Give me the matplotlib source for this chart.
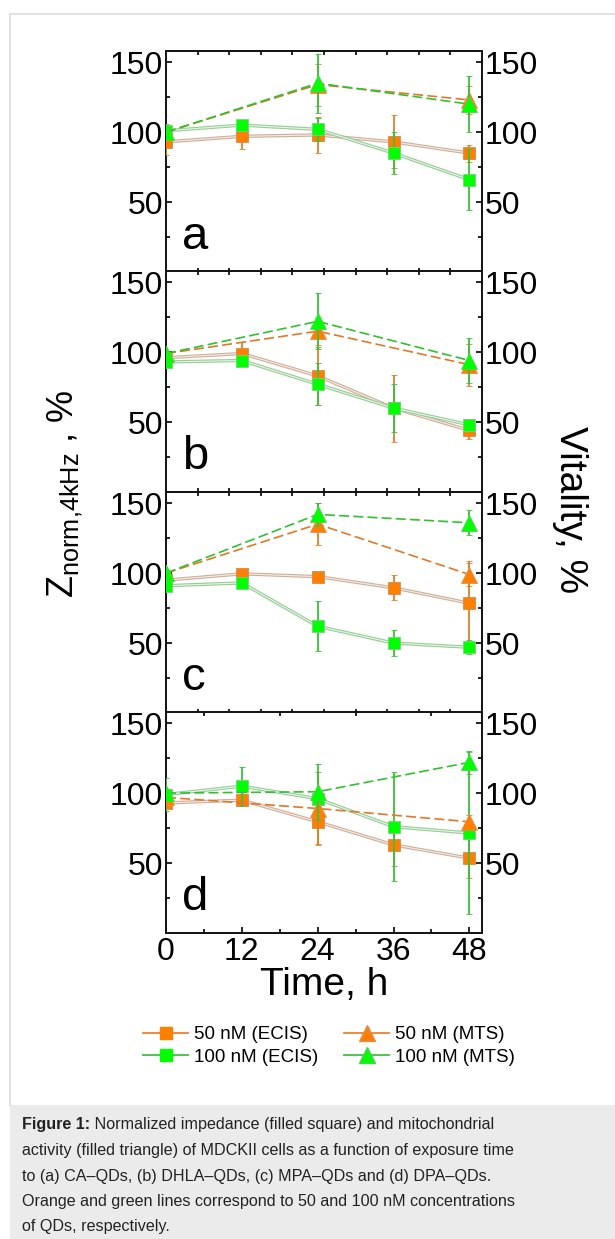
import numpy as np
import matplotlib
matplotlib.use('Agg')
import matplotlib.pyplot as plt
from matplotlib.lines import Line2D
from matplotlib.patches import Rectangle

plt.rcParams['font.family'] = ['Liberation Sans', 'DejaVu Sans']
plt.rcParams['mathtext.fontset'] = 'custom'
plt.rcParams['mathtext.rm'] = 'Liberation Sans'
plt.rcParams['mathtext.it'] = 'Liberation Sans'

# measurement times
t_ecis = [0, 12, 24, 36, 48]
t_mts = [0, 24, 48]
panel_letters = ['a', 'b', 'c', 'd']

# ECIS, 50 nM (orange squares)
ecis50 = [[93, 97, 98, 93, 85],
          [96, 99, 83, 60, 44],
          [95, 99.5, 97.5, 89.5, 78.5],
          [93, 95, 79.5, 63, 53.5]]
ecis50_err = [[9, 9, 13, 19, 6],
              [3, 8, 21, 24, 6],
              [3, 3, 3, 9, 30],
              [3, 3, 16, 15, 14]]
# ECIS, 100 nM (green squares)
ecis100 = [[101, 105, 102, 85, 66],
           [93, 94, 77, 60, 48],
           [91, 93, 62, 50, 47],
           [99, 105, 96, 76, 71.5]]
ecis100_err = [[5, 4, 8, 15, 22],
               [3, 3, 15, 17, 4],
               [3, 3, 18, 9, 5],
               [12, 14, 5, 39, 58]]
# MTS, 50 nM (orange triangles)
mts50 = [[100, 134, 123],
         [99, 115, 91],
         [100, 135, 99],
         [97, 89, 79.5]]
mts50_err = [[3, 15, 10],
             [2, 10, 15],
             [2, 15, 8],
             [2, 26, 5]]
# MTS, 100 nM (green triangles)
mts100 = [[100, 135, 120],
          [99, 122, 94],
          [100, 142, 136],
          [100, 101, 122]]
mts100_err = [[3, 21, 20],
              [2, 20, 16],
              [2, 8, 9],
              [3, 20, 8]]

orange = '#ff7f00'
green = '#00ff00'
orange_err = '#d9822b'
green_err = '#3cc03c'

W, H = 615, 1239
fig = plt.figure(figsize=(W/100, H/100), dpi=100)

# page frame and caption box
fig.add_artist(Line2D([10/W, 10/W], [1 - 14/H, 1 - 1105/H], color='#dcdcdc', lw=1.2))
fig.add_artist(Line2D([10/W, 1], [1 - 14/H, 1 - 14/H], color='#dcdcdc', lw=1.2))
fig.add_artist(Rectangle((10/W, 0), 1 - 10/W, (H - 1105)/H, color='#ebebeb', lw=0))

left, right = 166, 482
tops = [51, 271, 492, 712]
ph = 221

for i in range(4):
    ax = fig.add_axes([left/W, 1 - (tops[i] + ph)/H, (right - left)/W, ph/H])
    # ECIS lines (pale double stroke look)
    for vals, c1, c2 in [(ecis50[i], '#cfae98', '#f5ece6'), (ecis100[i], '#96cc96', '#e8f6e8')]:
        ax.plot(t_ecis, vals, color=c1, lw=2.4, zorder=2)
        ax.plot(t_ecis, vals, color=c2, lw=0.8, zorder=2)
    ax.errorbar(t_ecis, ecis50[i], yerr=ecis50_err[i], fmt='s', ms=9, mfc=orange, mec='#d08a50',
                mew=0.6, ecolor=orange_err, elinewidth=1.3, capsize=2, zorder=3)
    ax.errorbar(t_ecis, ecis100[i], yerr=ecis100_err[i], fmt='s', ms=9, mfc=green, mec='#7ccf7c',
                mew=0.6, ecolor=green_err, elinewidth=1.3, capsize=2, zorder=4)
    ax.plot(t_mts, mts50[i], color='#e07828', lw=1.2, dashes=(6, 2.5), zorder=5)
    ax.plot(t_mts, mts100[i], color='#30c030', lw=1.2, dashes=(6, 2.5), zorder=5)
    ax.errorbar(t_mts, mts50[i], yerr=mts50_err[i], fmt='^', ms=11, mfc=orange, mec='#e09050',
                mew=0.6, ecolor=orange_err, elinewidth=1.3, capsize=2, zorder=6)
    ax.errorbar(t_mts, mts100[i], yerr=mts100_err[i], fmt='^', ms=11, mfc=green, mec='#50d050',
                mew=0.6, ecolor=green_err, elinewidth=1.3, capsize=2, zorder=7)

    ax.set_xlim(0, 50)
    ax.set_ylim(0, 158)
    for s in ax.spines.values():
        s.set_linewidth(1.4)
        s.set_color('#111111')
    ax.set_yticks([50, 100, 150])
    ax.set_yticks([25, 75, 125], minor=True)
    ax.tick_params(axis='y', which='both', direction='in', left=True, right=True,
                   labelleft=True, labelright=True, labelsize=23, pad=2)
    ax.tick_params(axis='y', which='major', length=4, width=1.2)
    ax.tick_params(axis='y', which='minor', length=3, width=1.2)
    ax.set_xticks([5, 10, 15, 20, 25, 30, 35, 40, 45], minor=True)
    if i == 3:
        ax.set_xticks([0, 12, 24, 36, 48])
        ax.set_xticks([6, 18, 30, 42], minor=True)
        ax.tick_params(axis='x', which='both', direction='in', top=False, bottom=True,
                       labelsize=23, pad=3, width=1.2)
        ax.tick_params(axis='x', which='major', length=4)
        ax.tick_params(axis='x', which='minor', length=3)
        ax.set_xlabel('Time, h', fontsize=28, labelpad=0)
    else:
        ax.set_xticks([])
    ax.tick_params(axis='x', which='minor', top=True, direction='in', length=3, width=1.2)
    ax.text(2.6, 9, panel_letters[i], fontsize=34, ha='left', va='bottom')

fig.text(65/W, 1 - 494/H, r'$\mathrm{Z_{norm{,}4kHz}}$ , %', rotation=90, fontsize=26,
         ha='center', va='center')
fig.text(570/W, 1 - 510/H, 'Vitality, %', rotation=-90, fontsize=28,
         ha='center', va='center')

handles = [
    Line2D([], [], color='#f08030', lw=1.3, marker='s', ms=9, mfc=orange, mec=orange),
    Line2D([], [], color='#40c040', lw=1.3, marker='s', ms=9, mfc=green, mec=green),
    Line2D([], [], color='#f08030', lw=1.3, marker='^', ms=11, mfc=orange, mec='#e09050'),
    Line2D([], [], color='#40c040', lw=1.3, marker='^', ms=11, mfc=green, mec='#50d050'),
]
labels = ['50 nM (ECIS)', '100 nM (ECIS)', '50 nM (MTS)', '100 nM (MTS)']
fig.legend(handles, labels, ncol=2, loc='center', bbox_to_anchor=(329/W, 1 - 1046/H),
           frameon=False, fontsize=13.5, handlelength=2.4, handletextpad=0.3,
           columnspacing=1.4, labelspacing=0.3)

caption = [
    ('Figure 1:', ' Normalized impedance (filled square) and mitochondrial'),
    ('', 'activity (filled triangle) of MDCKII cells as a function of exposure time'),
    ('', 'to (a) CA\u2013QDs, (b) DHLA\u2013QDs, (c) MPA\u2013QDs and (d) DPA\u2013QDs.'),
    ('', 'Orange and green lines correspond to 50 and 100 nM concentrations'),
    ('', 'of QDs, respectively.'),
]
cap_size = 11.6
y0 = 1125
for k, (bold, rest) in enumerate(caption):
    y = 1 - (y0 + k*25.5)/H
    if bold:
        t = fig.text(22/W, y, bold, fontsize=cap_size, fontweight='bold',
                     ha='left', va='center', color='#222222')
        fig.canvas.draw()
        bb = t.get_window_extent()
        fig.text(bb.x1/W, y, rest, fontsize=cap_size, ha='left', va='center', color='#222222')
    else:
        fig.text(22/W, y, rest, fontsize=cap_size, ha='left', va='center', color='#222222')

fig.savefig('out.png', dpi=100)
